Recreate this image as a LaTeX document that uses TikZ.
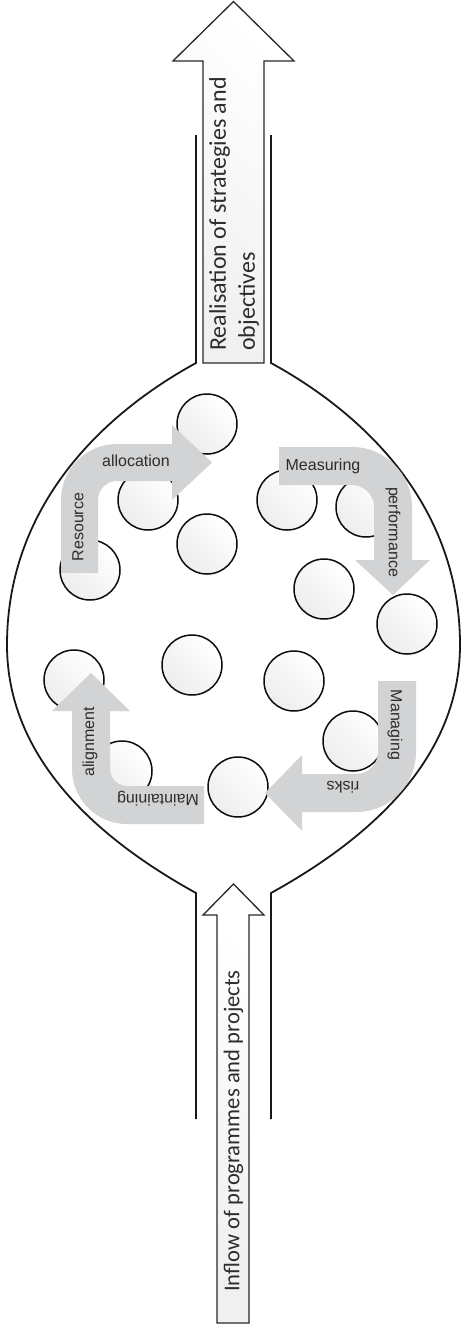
\documentclass[tikz,border=0pt]{standalone}
\usepackage{fontspec}
\setmainfont{Liberation Sans}
\newfontfamily\calib{Carlito}
\definecolor{arrowgray}{RGB}{210,211,213}
\definecolor{labelgray}{RGB}{45,45,45}
\definecolor{edgegray}{RGB}{40,40,40}
\tikzset{
  bub/.style={circle, draw=black!95, line width=1.5pt, minimum size=60pt, inner sep=0pt,
    top color=white, bottom color=black!7, shading angle=-45},
  garrow/.style={fill=arrowgray, draw=none},
  glabel/.style={font=\fontsize{16}{19}\selectfont, text=labelgray, inner sep=0pt},
  biglabel/.style={font=\calib, text=labelgray, inner sep=0pt},
  bigarrow/.style={draw=edgegray, line width=1.3pt, line join=miter,
    top color=white, bottom color=black!6, shading angle=-45},
  wall/.style={draw=black!90, line width=1.8pt}
}
\begin{document}
\begin{tikzpicture}[x=1pt,y=-1pt]
\useasboundingbox (0,0) rectangle (461,1333);
\fill[white] (0,0) rectangle (461,1333);

% bulb / flask walls
\path[wall] (196,135) -- (196,363) .. controls (110,410) and (7,500) .. (7,645)
  .. controls (7,760) and (100,840) .. (196,893) -- (196,1119);
\path[wall] (271,135) -- (271,363) .. controls (357,410) and (460,500) .. (460,645)
  .. controls (460,760) and (367,840) .. (271,893) -- (271,1119);

% circles
\node[bub] (c1) at (207,424) {};
\node[bub] (c2) at (148,500) {};
\node[bub] (c3) at (207,544) {};
\node[bub] (c4) at (90,570) {};
\node[bub] (c5) at (287,500) {};
\node[bub] (c6) at (366,507) {};
\node[bub] (c7) at (324,589) {};
\node[bub] (c8) at (407,624) {};
\node[bub] (c9) at (192,665) {};
\node[bub] (c10) at (294,681) {};
\node[bub] (c11) at (74,680) {};
\node[bub] (c12) at (353,741) {};
\node[bub] (c13) at (122,771) {};
\node[bub] (c14) at (238,787) {};

% Resource allocation
\path[garrow] (61,573) -- (61,500) arc[start angle=180, end angle=270, radius=56]
  -- (172,444) -- (172,425) -- (212,462.5) -- (172,500) -- (172,481) -- (117,481)
  arc[start angle=270, end angle=180, radius=19] -- (98,573) -- cycle;
% Measuring performance
\path[garrow] (279,447) -- (352,447) arc[start angle=270, end angle=360, radius=60]
  -- (412,560) -- (430,560) -- (393,595) -- (355,560) -- (374,560) -- (374,507)
  arc[start angle=0, end angle=-90, radius=22] -- (279,485) -- cycle;
% Managing risks
\path[garrow] (378,681) -- (416,681) -- (416,752) arc[start angle=0, end angle=90, radius=60]
  -- (302,812) -- (302,831) -- (265,793) -- (302,755) -- (302,774) -- (356,774)
  arc[start angle=90, end angle=0, radius=22] -- cycle;
% Maintaining alignment
\path[garrow] (204,786) -- (204,824) -- (127,824) arc[start angle=90, end angle=180, radius=55]
  -- (72,711) -- (52,711) -- (91,673) -- (130,711) -- (110,711) -- (110,769)
  arc[start angle=180, end angle=90, radius=17] -- cycle;

% labels of the grey arrows
\node[glabel, rotate=90] (resource) at (78,527) {Resource};
\node[glabel] (allocation) at (136,461) {allocation};
\node[glabel] (measuring) at (323,466) {Measuring};
\node[glabel, rotate=-90] (performance) at (393,532) {performance};
\node[glabel, rotate=-90] (managing) at (395,725) {Managing};
\node[glabel, rotate=180] (risks) at (343,787) {risks};
\node[glabel, rotate=180] (maintaining) at (158,799) {Maintaining};
\node[glabel, rotate=90] (alignment) at (90,742) {alignment};

% big arrows
\path[bigarrow] (203,363) -- (203,61) -- (173,61) -- (233.5,1.5) -- (294,61) -- (264,61)
  -- (264,363) -- cycle;
\path[bigarrow] (217,1323) -- (217,915) -- (203,915) -- (233.5,884) -- (264,915)
  -- (249,915) -- (249,1323) -- cycle;

\node[biglabel, rotate=90, anchor=west, align=left, font=\calib\fontsize{24}{29}\selectfont]
  (outflow) at (234,351) {Realisation of strategies and\\objectives};
\node[biglabel, rotate=90, font=\calib\fontsize{22.6}{27}\selectfont]
  (inflow) at (233.5,1131) {Inflow of programmes and projects};
\end{tikzpicture}
\end{document}
